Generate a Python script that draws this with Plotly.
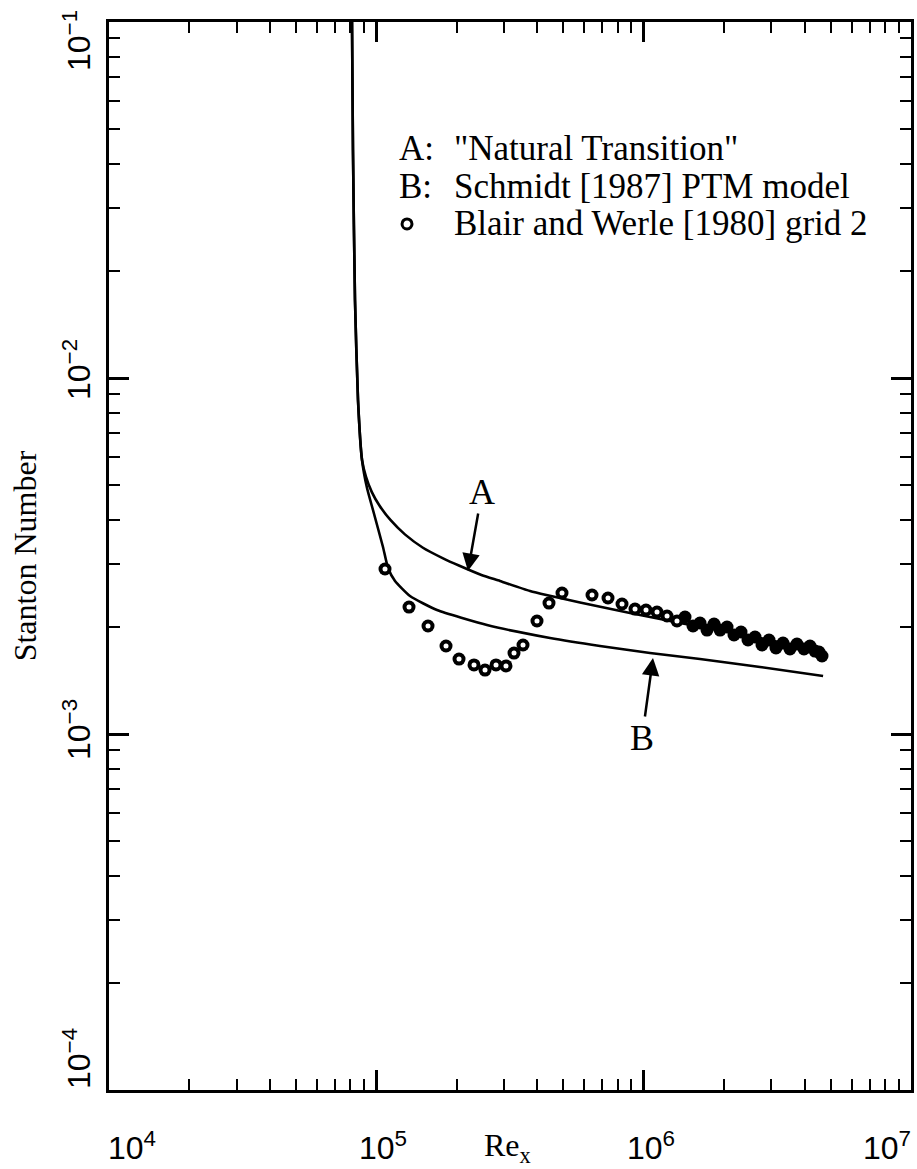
import math
import plotly.graph_objects as go

# ---- Data (Re_x, Stanton number) ----
# Curve A: "Natural Transition"
re_a = [81100, 81770, 83210, 85390, 88400, 91500, 96200, 102700, 112900, 127900,
        149400, 177700, 203600, 248600, 290000, 375700, 578000, 889000, 1368000, 2500000, 4690000]
st_a = [0.1, 0.0437, 0.01656, 0.00868, 0.005884, 0.005276, 0.004781, 0.004383, 0.003992,
        0.003637, 0.003336, 0.003115, 0.002973, 0.002792, 0.002691, 0.002522, 0.002341,
        0.002187, 0.00205, 0.001885, 0.001709]

# Curve B: Schmidt [1987] PTM model
re_b = [81100, 81770, 83210, 85390, 88400, 92290, 97160, 105900, 110600, 117450,
        133650, 168650, 259400, 446500, 686500, 1056100, 1624500, 2724000, 4690000]
st_b = [0.1, 0.0437, 0.01656, 0.00868, 0.005884, 0.004909, 0.004258, 0.003352, 0.002926,
        0.002691, 0.002441, 0.002229, 0.002023, 0.001861, 0.001767, 0.001689, 0.001625,
        0.001543, 0.001455]

# Blair and Werle [1980] grid 2 (measured)
re_exp = [107750, 132530, 156080, 182260, 203860, 231930, 255000, 280300, 305500, 327300,
          353700, 399000, 442500, 494900, 641000, 735500, 829800, 928200, 1020400, 1121700,
          1223000, 1332500, 1427600, 1529500, 1624500, 1725600, 1833500, 1930600, 2050300,
          2177500, 2312800, 2456400, 2609000, 2771100, 2943000, 3125800, 3320000, 3526300,
          3745100, 3979200, 4190200, 4374700, 4528000, 4646500]
st_exp = [0.002907, 0.002273, 0.002011, 0.001767, 0.001624, 0.001563, 0.001512, 0.001563,
          0.001553, 0.001688, 0.001778, 0.002077, 0.002332, 0.002489, 0.002457, 0.00241,
          0.002318, 0.002244, 0.00223, 0.002201, 0.002145, 0.002077, 0.002131, 0.002011,
          0.00205, 0.001959, 0.002037, 0.001959, 0.001998, 0.001897, 0.001934, 0.001837,
          0.001873, 0.001778, 0.001837, 0.001744, 0.001801, 0.001733, 0.00179, 0.001733,
          0.001767, 0.00171, 0.001699, 0.001656]

# Axis ticks
x_major = [1e4, 1e5, 1e6, 1e7]
x_labels = ["10<sup>4</sup>", "10<sup>5</sup>", "10<sup>6</sup>", "10<sup>7</sup>"]
y_major = [1e-4, 1e-3, 1e-2, 1e-1]
y_labels = ["10<sup>\u22124</sup>", "10<sup>\u22123</sup>", "10<sup>\u22122</sup>", "10<sup>\u22121</sup>"]
x_minor = [k * 10 ** n for n in (4, 5, 6) for k in range(2, 10)]
y_minor = [k * 10.0 ** n for n in (-4, -3, -2) for k in range(2, 10)]

x_title = "Re<sub>x</sub>"
y_title = "Stanton Number"
legend_labels = ['"Natural Transition"', 'Schmidt [1987] PTM model', 'Blair and Werle [1980] grid 2']

SERIF = "Liberation Serif, Times New Roman, serif"
SANS = "Liberation Sans Narrow, Liberation Sans, Arial, sans-serif"

# where the printed symbols merge into a solid band (no visible centres)
dense_from = 1.4e6
re_open = [r for r in re_exp if r < dense_from]
st_open = [s for r, s in zip(re_exp, st_exp) if r < dense_from]

fig = go.Figure()
fig.add_trace(go.Scatter(x=re_a, y=st_a, mode="lines", name="A",
                         line=dict(color="black", width=2.6, shape="spline", smoothing=0.5)))
fig.add_trace(go.Scatter(x=re_b, y=st_b, mode="lines", name="B",
                         line=dict(color="black", width=2.6, shape="spline", smoothing=0.5)))
# thick-ringed open circles: black disc + small white centre
fig.add_trace(go.Scatter(x=re_exp, y=st_exp, mode="markers", name="Blair and Werle",
                         marker=dict(symbol="circle", size=13, color="black", line=dict(width=0))))
fig.add_trace(go.Scatter(x=re_open, y=st_open, mode="markers", name="centres", hoverinfo="skip",
                         marker=dict(symbol="circle", size=5, color="white", line=dict(width=0))))

axis_common = dict(
    showline=True, linewidth=3, linecolor="black", mirror="allticks",
    ticks="inside", ticklen=20, tickwidth=2.5, tickcolor="black",
    showgrid=False, zeroline=False, showticklabels=False,
)

fig.update_xaxes(
    type="log", range=[4, 7], tickvals=x_major,
    minor=dict(tickvals=x_minor, ticks="inside", ticklen=11, tickwidth=2, tickcolor="black", showgrid=False),
    **axis_common,
)
fig.update_yaxes(
    type="log", range=[-4, -1], tickvals=y_major,
    minor=dict(tickvals=y_minor, ticks="inside", ticklen=11, tickwidth=2, tickcolor="black", showgrid=False),
    title=dict(text=y_title, font=dict(family=SERIF, size=32, color="black"), standoff=60),
    **axis_common,
)

annotations = []
# Tick labels placed like the reference (end labels kept inside the frame)
x_shift = [23, 7, 7, -24]
for v, lab, sh in zip(x_major, x_labels, x_shift):
    annotations.append(dict(x=math.log10(v), y=-0.052, xref="x", yref="paper", text=lab,
                            showarrow=False, xanchor="center", yanchor="middle", xshift=sh,
                            font=dict(family=SANS, size=32, color="black")))
y_shift = [31, 4, 8, -19]
for v, lab, sh in zip(y_major, y_labels, y_shift):
    annotations.append(dict(x=-0.0399, y=math.log10(v), xref="paper", yref="y", text=lab,
                            showarrow=False, xanchor="center", yanchor="middle", yshift=sh,
                            textangle=-90, font=dict(family=SANS, size=32, color="black")))
# x-axis title
annotations.append(dict(x=0.497, y=-0.0745, xref="paper", yref="paper", text=x_title,
                        showarrow=False, xanchor="center", yanchor="bottom",
                        font=dict(family=SERIF, size=32, color="black")))

rows_y = [0.8811, 0.8464, 0.8109]
for lab, yy in zip(["A:", "B:"], rows_y[:2]):
    annotations.append(dict(x=0.3591, y=yy, xref="paper", yref="paper", text=lab, showarrow=False,
                            xanchor="left", yanchor="middle",
                            font=dict(family=SERIF, size=35, color="black")))
for lab, yy in zip(legend_labels, rows_y):
    annotations.append(dict(x=0.4277, y=yy, xref="paper", yref="paper", text=lab, showarrow=False,
                            xanchor="left", yanchor="middle",
                            font=dict(family=SERIF, size=35, color="black")))
# Curve labels with arrows
annotations.append(dict(x=0.4476, y=0.4860, xref="paper", yref="paper", text="A", showarrow=True,
                        ax=14, ay=-79, arrowhead=2, arrowsize=1.4, arrowwidth=2.5, arrowcolor="black",
                        font=dict(family=SERIF, size=36, color="black")))
annotations.append(dict(x=0.6783, y=0.4045, xref="paper", yref="paper", text="B", showarrow=True,
                        ax=-11, ay=80, arrowhead=2, arrowsize=1.4, arrowwidth=2.5, arrowcolor="black",
                        font=dict(family=SERIF, size=36, color="black")))

shapes = [dict(type="circle", xref="paper", yref="paper",
               x0=0.3716 - 0.0062, x1=0.3716 + 0.0062, y0=0.8109 - 0.0047, y1=0.8109 + 0.0047,
               line=dict(color="black", width=3))]

fig.update_layout(
    width=917, height=1169,
    margin=dict(l=109, r=6, t=22, b=79, autoexpand=False),
    paper_bgcolor="white", plot_bgcolor="white",
    showlegend=False,
    annotations=annotations, shapes=shapes,
)

fig.write_html("out.html")
